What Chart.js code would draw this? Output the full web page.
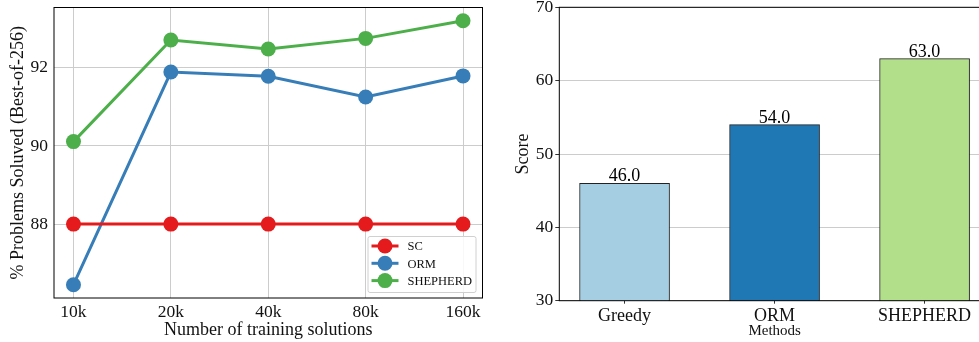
<!DOCTYPE html>
<html>
<head>
<meta charset="utf-8">
<script src="https://cdn.jsdelivr.net/npm/chart.js@4.4.0/dist/chart.umd.min.js"></script>
<style>
  html, body { margin: 0; padding: 0; background: #fff; overflow: hidden; }
  #wrap { position: relative; width: 979px; height: 342px; overflow: hidden; }
  #left { position: absolute; left: 0; top: 0; }
  #right { position: absolute; left: 490px; top: 0; }
</style>
</head>
<body>
<div id="wrap">
  <canvas id="left" width="490" height="342"></canvas>
  <canvas id="right" width="500" height="342"></canvas>
</div>
<script>
// left panel: training set size vs problems solved
const sizes        = ["10k", "20k", "40k", "80k", "160k"];
const scValues     = [88.0, 88.0, 88.0, 88.0, 88.0];
const ormValues    = [86.45, 91.89, 91.78, 91.25, 91.79];
const shepValues   = [90.11, 92.71, 92.48, 92.75, 93.20];
const leftTicks    = [88, 90, 92];

// right panel: scores per method
const methods      = ["Greedy", "ORM", "SHEPHERD"];
const scores       = [46.0, 54.0, 63.0];
const rightTicks   = [30, 40, 50, 60, 70];

const SERIF = "'Liberation Serif', 'DejaVu Serif', serif";
const GRID = "#cccccc";

const toPoints = (arr) => arr.map((v, i) => ({ x: i, y: v }));

// fix axis size and drop the label overhang padding chart.js adds
const fitX = (h) => (s) => { s.height = h; s.paddingLeft = 0; s.paddingRight = 0; };
const fitY = (w) => (s) => { s.width = w; s.paddingTop = 0; s.paddingBottom = 0; };

// black box around the plot area
const frame = {
  id: "frame",
  afterDraw(chart) {
    const { ctx, chartArea: a } = chart;
    ctx.save();
    ctx.strokeStyle = "#000";
    ctx.lineWidth = 1;
    ctx.strokeRect(a.left, a.top, a.right - a.left, a.bottom - a.top);
    ctx.restore();
  }
};

// matplotlib-like legend box in the lower right corner
const boxLegend = {
  id: "boxLegend",
  afterDraw(chart) {
    const { ctx, chartArea: a } = chart;
    const sets = chart.data.datasets;
    const w = 108, h = 56;
    const x0 = a.right - 7 - w, y0 = a.bottom - 6 - h;
    ctx.save();
    ctx.fillStyle = "rgba(255,255,255,0.85)";
    ctx.strokeStyle = "#d0d0d0";
    ctx.lineWidth = 1;
    ctx.beginPath();
    ctx.roundRect(x0 + 0.5, y0 + 0.5, w, h, 2);
    ctx.fill();
    ctx.stroke();
    sets.forEach((ds, i) => {
      const cy = y0 + 10 + i * 17.3;
      ctx.strokeStyle = ds.borderColor;
      ctx.lineWidth = 3;
      ctx.beginPath();
      ctx.moveTo(x0 + 4, cy);
      ctx.lineTo(x0 + 31, cy);
      ctx.stroke();
      ctx.fillStyle = ds.borderColor;
      ctx.beginPath();
      ctx.arc(x0 + 17.5, cy, 7.5, 0, Math.PI * 2);
      ctx.fill();
      ctx.fillStyle = "#111";
      ctx.font = "12.5px " + SERIF;
      ctx.textBaseline = "middle";
      ctx.textAlign = "left";
      ctx.fillText(ds.label, x0 + 40, cy + 1);
    });
    ctx.restore();
  }
};

// value labels above the bars
const barLabels = {
  id: "barLabels",
  afterDatasetsDraw(chart) {
    const { ctx } = chart;
    const meta = chart.getDatasetMeta(0);
    ctx.save();
    ctx.fillStyle = "#000";
    ctx.font = "18px " + SERIF;
    ctx.textAlign = "center";
    ctx.textBaseline = "alphabetic";
    meta.data.forEach((bar, i) => {
      ctx.fillText(scores[i].toFixed(1), bar.x, bar.y - 2);
    });
    ctx.restore();
  }
};

const lineSet = (label, data, color) => ({
  label: label,
  data: toPoints(data),
  borderColor: color,
  backgroundColor: color,
  borderWidth: 3,
  pointRadius: 7.5,
  pointBorderWidth: 0,
  pointBackgroundColor: color,
  tension: 0
});

new Chart(document.getElementById("left"), {
  type: "line",
  data: {
    datasets: [
      lineSet("SC", scValues, "#e41a1c"),
      lineSet("ORM", ormValues, "#377eb8"),
      lineSet("SHEPHERD", shepValues, "#4daf4a")
    ]
  },
  options: {
    responsive: false,
    animation: false,
    layout: { padding: { top: 5, right: 6, left: 0, bottom: 0 } },
    plugins: { legend: { display: false }, tooltip: { enabled: false } },
    scales: {
      x: {
        type: "linear",
        min: -0.2,
        max: 4.2,
        afterBuildTicks: (s) => { s.ticks = sizes.map((_, i) => ({ value: i })); },
        afterFit: fitX(44),
        grid: { color: GRID, lineWidth: 1, drawTicks: false },
        border: { display: false },
        ticks: {
          callback: (v) => sizes[v],
          color: "#111",
          padding: 4,
          maxRotation: 0,
          font: { family: SERIF, size: 17.5 }
        },
        title: {
          display: true,
          text: "Number of training solutions",
          color: "#111",
          padding: { top: 0, bottom: 1 },
          font: { family: SERIF, size: 18 }
        }
      },
      y: {
        min: 86.11,
        max: 93.54,
        afterBuildTicks: (s) => { s.ticks = leftTicks.map((v) => ({ value: v })); },
        afterFit: fitY(54),
        grid: { color: GRID, lineWidth: 1, drawTicks: false },
        border: { display: false },
        ticks: {
          color: "#111",
          padding: 6,
          font: { family: SERIF, size: 17.5 }
        },
        title: {
          display: true,
          text: "% Problems Soluved (Best-of-256)",
          color: "#111",
          padding: { top: 7, bottom: 0 },
          font: { family: SERIF, size: 18 }
        }
      }
    }
  },
  plugins: [frame, boxLegend]
});

new Chart(document.getElementById("right"), {
  type: "bar",
  data: {
    datasets: [{
      label: "Score",
      data: toPoints(scores),
      backgroundColor: ["#a6cee3", "#1f78b4", "#b2df8a"],
      borderColor: "#222",
      borderWidth: 1,
      borderSkipped: false,
      barThickness: 90
    }]
  },
  options: {
    responsive: false,
    animation: false,
    layout: { padding: { top: 7.3, right: 0, left: 0, bottom: 0 } },
    plugins: { legend: { display: false }, tooltip: { enabled: false } },
    scales: {
      x: {
        type: "linear",
        offset: false,
        min: -0.435,
        max: 2.436,
        afterBuildTicks: (s) => { s.ticks = methods.map((_, i) => ({ value: i })); },
        afterFit: fitX(41.3),
        grid: { offset: false, drawOnChartArea: false, drawTicks: true, tickLength: 3, tickColor: "#333" },
        border: { display: false },
        ticks: {
          callback: (v) => methods[v],
          color: "#111",
          padding: 2,
          maxRotation: 0,
          font: { family: SERIF, size: 18 }
        },
        title: {
          display: true,
          text: "Methods",
          color: "#111",
          padding: { top: 0, bottom: 1.5 },
          font: { family: SERIF, size: 15 }
        }
      },
      y: {
        min: 30,
        max: 70,
        afterBuildTicks: (s) => { s.ticks = rightTicks.map((v) => ({ value: v })); },
        afterFit: fitY(69.3),
        grid: { color: GRID, lineWidth: 1, tickLength: 4, tickColor: "#333" },
        border: { display: false },
        ticks: {
          color: "#111",
          padding: 2,
          font: { family: SERIF, size: 17.5 }
        },
        title: {
          display: true,
          text: "Score",
          color: "#111",
          padding: { top: 22, bottom: 0 },
          font: { family: SERIF, size: 18 }
        }
      }
    }
  },
  plugins: [frame, barLabels]
});
</script>
</body>
</html>
